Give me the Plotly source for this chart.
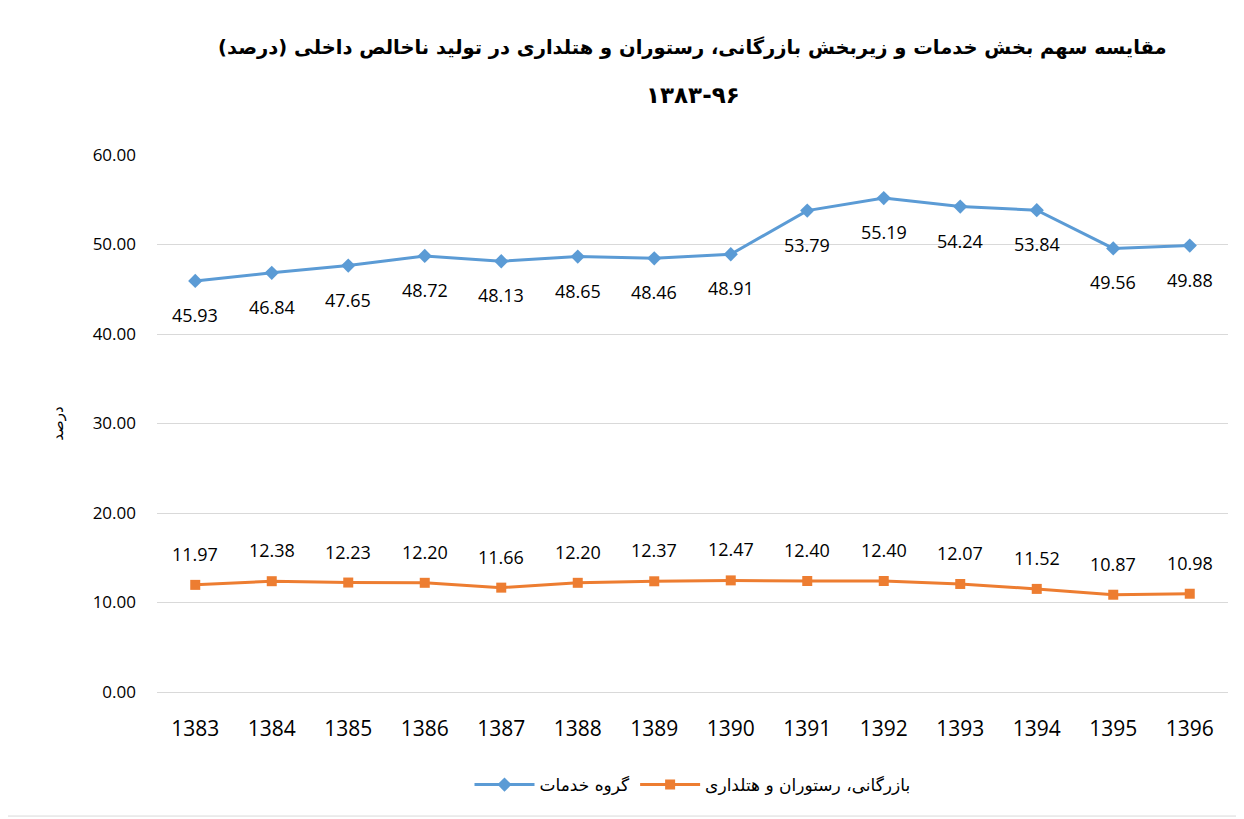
import plotly.graph_objects as go

years = ["1383", "1384", "1385", "1386", "1387", "1388", "1389", "1390", "1391", "1392", "1393", "1394", "1395", "1396"]
services = [45.93, 46.84, 47.65, 48.72, 48.13, 48.65, 48.46, 48.91, 53.79, 55.19, 54.24, 53.84, 49.56, 49.88]
trade = [11.97, 12.38, 12.23, 12.20, 11.66, 12.20, 12.37, 12.47, 12.40, 12.40, 12.07, 11.52, 10.87, 10.98]
y_ticks = [0, 10, 20, 30, 40, 50, 60]

name_services = "گروه خدمات"
name_trade = "بازرگانی، رستوران و هتلداری"
title_line1 = "مقایسه سهم بخش خدمات و زیربخش بازرگانی، رستوران و هتلداری در تولید ناخالص داخلی (درصد)"
title_line2 = "۱۳۸۳-۹۶"

BLUE = "#5B9BD5"
ORANGE = "#ED7D31"
LABEL_FONT = dict(size=18, color="#000000", family="Open Sans")

fig = go.Figure()
fig.add_trace(go.Scatter(
    x=years, y=services, name=name_services, mode="lines+markers",
    line=dict(color=BLUE, width=3),
    marker=dict(symbol="diamond", size=11, color=BLUE),
))
fig.add_trace(go.Scatter(
    x=years, y=trade, name=name_trade, mode="lines+markers",
    line=dict(color=ORANGE, width=3),
    marker=dict(symbol="square", size=10, color=ORANGE),
))

annotations = []
for i, v in enumerate(services):
    annotations.append(dict(x=i, y=v, xref="x", yref="y", text=f"{v:.2f}", showarrow=False,
                            yshift=-34, font=LABEL_FONT))
for i, v in enumerate(trade):
    annotations.append(dict(x=i, y=v, xref="x", yref="y", text=f"{v:.2f}", showarrow=False,
                            yshift=31, font=LABEL_FONT))
annotations.append(dict(text="<b>" + title_line1 + "</b>", xref="paper", yref="paper", x=0.5, y=1.0 + (155 - 47) / 537,
                        showarrow=False, xanchor="center", yanchor="middle",
                        font=dict(size=19.5, color="#000000", family="DejaVu Sans")))
annotations.append(dict(text="<b>" + title_line2 + "</b>", xref="paper", yref="paper", x=0.5, y=1.0 + (155 - 95) / 537,
                        showarrow=False, xanchor="center", yanchor="middle",
                        font=dict(size=23, color="#000000", family="DejaVu Sans")))

fig.update_layout(
    width=1244, height=819,
    paper_bgcolor="white", plot_bgcolor="white",
    margin=dict(l=149, r=24, t=147, b=135),
    legend=dict(orientation="h", x=0.5, xanchor="center", y=-(785 - 692) / 537, yanchor="middle",
                itemwidth=60,
                font=dict(size=17, color="#000000", family="DejaVu Sans")),
    showlegend=True,
    annotations=annotations,
    shapes=[dict(type="rect", xref="paper", yref="paper", x0=-0.1447, x1=1.0112, y0=-0.231, y1=1.285,
                 line=dict(color="#D9D9D9", width=1))],
)
fig.update_xaxes(type="category", range=[-0.5, 13.5], showgrid=False, showline=True,
                 linecolor="#D9D9D9", ticks="", ticklabelstandoff=18,
                 tickfont=dict(size=21, color="#000000", family="Open Sans"))
fig.update_yaxes(range=[0, 60], tickvals=y_ticks, tickformat=".2f", showgrid=True, gridcolor="#D9D9D9",
                 zeroline=False, showline=False, ticklabelstandoff=20,
                 tickfont=dict(size=17, color="#000000", family="Open Sans"),
                 title=dict(text="درصد", font=dict(size=15, color="#000000", family="DejaVu Sans"), standoff=25))

fig.write_html("out.html")
